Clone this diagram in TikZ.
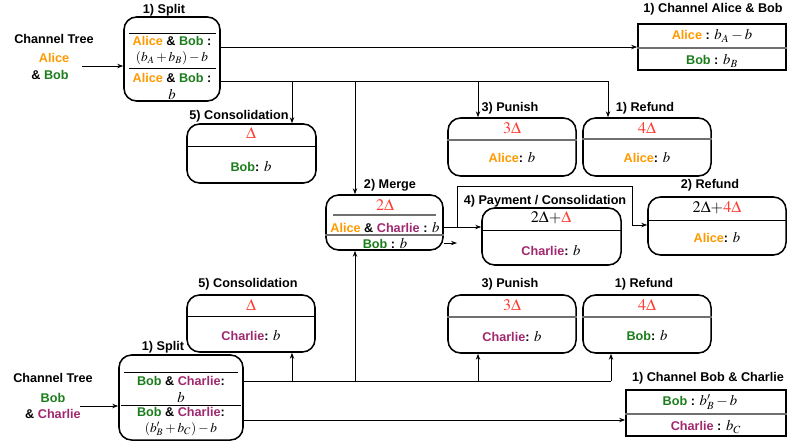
\documentclass[tikz,border=0pt]{standalone}
\usepackage{mathptmx}
\usepackage{fontspec}
\setmainfont{Liberation Sans}
\usepackage{xcolor}
\usepackage{tikz}
\usetikzlibrary{arrows.meta}
\definecolor{alice}{HTML}{FF9900}
\definecolor{bob}{HTML}{1B7D1B}
\definecolor{charlie}{HTML}{A0286E}
\definecolor{delta}{HTML}{FF3B2F}
\definecolor{rule}{HTML}{707070}
\newcommand{\pAlice}{\textcolor{alice}{Alice}}
\newcommand{\pBob}{\textcolor{bob}{Bob}}
\newcommand{\pCharlie}{\textcolor{charlie}{Charlie}}
\newcommand{\mth}[1]{{\fontsize{10.5}{12}\selectfont$#1$}}
\tikzset{
  box/.style={draw=black, line width=1.1pt, rounded corners=9pt, inner sep=0pt},
  chanbox/.style={draw=black, line width=1.2pt, inner sep=0pt},
  sep/.style={draw=black, line width=0.7pt},
  gsep/.style={draw=rule, line width=0.9pt},
  wire/.style={draw=black, line width=0.6pt},
  arr/.style={wire, -{Stealth[length=1.5mm, width=1.1mm]}},
  lab/.style={font=\bfseries\fontsize{9}{10}\selectfont, inner sep=0pt},
  txt/.style={font=\bfseries\fontsize{9}{10}\selectfont, inner sep=0pt},
  dlt/.style={text=delta, font=\fontsize{11.5}{12}\selectfont, inner sep=0pt},
}
\begin{document}
\begin{tikzpicture}[x=0.025cm, y=-0.025cm]
\useasboundingbox (0,0) rectangle (787,443);

\node[txt] (treeA) at (54,39) {Channel Tree};
\node[txt] (treeA1) at (54,58) {\pAlice};
\node[txt] (treeA2) at (50,75) {\& \pBob};
\coordinate (inA) at (82,66);

\node[box, minimum width=2.4cm, minimum height=2.1cm] (splitA) at (172,59) {};
\node[lab] (splitAl) at (164,10) {1) Split};
\draw[sep] (129,33) -- (216,33);
\node[txt] (splitA1) at (172,41) {\pAlice{} \& \pBob{} :};
\node[txt] (splitA2) at (172,58) {\fontsize{9.5}{11}\selectfont$(b_A+b_B)-b$};
\draw[sep] (129,68) -- (216,68);
\node[txt] (splitA3) at (172,78) {\pAlice{} \& \pBob{} :};
\node[txt] (splitA4) at (172,94) {\mth{b}};
\draw[arr] (inA) -- (inA -| splitA.west);

\node[chanbox, minimum width=3.7cm, minimum height=1.15cm] (chanAB) at (712,47) {};
\node[lab] (chanABl) at (713,9) {1) Channel Alice \& Bob};
\draw[gsep] (chanAB.west |- 0,48) -- (chanAB.east |- 0,48);
\node[txt] (chanAB1) at (712,36) {\pAlice{} : \mth{b_A-b}};
\node[txt] (chanAB2) at (712,61) {\pBob{} : \mth{b_B}};
\draw[arr] (chanAB.west -| splitA.east) -- (chanAB.west);

\node[box, minimum width=3.225cm, minimum height=1.475cm] (conA) at (251.5,153.5) {};
\node[lab] (conAl) at (239,116) {5) Consolidation};
\draw[sep] (conA.west |- 0,146) -- (conA.east |- 0,146);
\node[dlt] (conA1) at (251,133) {$\Delta$};
\node[txt] (conA2) at (251,166) {\pBob: \mth{b}};

\node[box, minimum width=3.2cm, minimum height=1.45cm] (punA) at (512,147) {};
\node[lab] (punAl) at (510,108) {3) Punish};
\draw[gsep] (punA.west |- 0,140) -- (punA.east |- 0,140);
\node[dlt] (punA1) at (512,128) {$3\Delta$};
\node[txt] (punA2) at (512,157) {\pAlice: \mth{b}};

\node[box, minimum width=3.2cm, minimum height=1.45cm] (refA) at (647,147) {};
\node[lab] (refAl) at (645,108) {1) Refund};
\draw[gsep] (refA.west |- 0,139) -- (refA.east |- 0,139);
\node[dlt] (refA1) at (647,128) {$4\Delta$};
\node[txt] (refA2) at (647,157) {\pAlice: \mth{b}};

\coordinate (jA1) at (292,81);
\coordinate (jA2) at (355,81);
\coordinate (jA3) at (478,81);
\coordinate (jA4) at (608,81);
\draw[wire] (splitA.east |- jA4) -- (jA4);
\draw[arr] (jA1) -- (jA1 |- conA.north);
\draw[arr] (jA3) -- (jA3 |- punA.north);
\draw[arr] (jA4) -- (jA4 |- refA.north);

\node[box, minimum width=2.925cm, minimum height=1.375cm] (merge) at (384.5,222.5) {};
\node[lab] (mergel) at (390,185) {2) Merge};
\node[dlt] (merge1) at (385,205) {$2\Delta$};
\draw[gsep] (333,215) -- (436,215);
\node[txt] (merge2) at (385,227) {\pAlice{} \& \pCharlie{} : \mth{b}};
\draw[gsep] (merge.west |- 0,235) -- (merge.east |- 0,235);
\node[txt] (merge3) at (385,243) {\pBob{} : \mth{b}};
\draw[arr] (jA2) -- (jA2 |- merge.north);

\node[box, minimum width=3.475cm, minimum height=1.425cm] (pay) at (551.5,236.5) {};
\node[lab] (payl) at (545,201) {4) Payment / Consolidation};
\draw[sep] (pay.west |- 0,230) -- (pay.east |- 0,230);
\node[txt, font=\fontsize{11.5}{12}\selectfont] (pay1) at (551,218) {$2\Delta{+}\textcolor{delta}{\Delta}$};
\node[txt] (pay2) at (551,250) {\pCharlie: \mth{b}};

\node[box, minimum width=3.45cm, minimum height=1.45cm] (refM) at (717,226) {};
\node[lab] (refMl) at (710,185) {2) Refund};
\draw[sep] (refM.west |- 0,220) -- (refM.east |- 0,220);
\node[txt, font=\fontsize{11.5}{12}\selectfont] (refM1) at (717,208) {$2\Delta{+}\textcolor{delta}{4\Delta}$};
\node[txt] (refM2) at (717,237) {\pAlice: \mth{b}};

\coordinate (jM) at (457,227);
\coordinate (mOut) at (457,243);
\draw[arr] (merge.east |- jM) -- (pay.west |- jM);
\draw[arr] (jM) -- (457,186) -- (632,186) -- (632,225) -- (refM.west |- 0,225);
\draw[arr] (merge.east |- mOut) -- (mOut);

\node[box, minimum width=3.2cm, minimum height=1.425cm] (conB) at (251,323.5) {};
\node[lab] (conBl) at (248,284) {5) Consolidation};
\draw[sep] (conB.west |- 0,316) -- (conB.east |- 0,316);
\node[dlt] (conB1) at (251,305) {$\Delta$};
\node[txt] (conB2) at (251,335) {\pCharlie: \mth{b}};

\node[box, minimum width=3.2cm, minimum height=1.45cm] (punB) at (512,324) {};
\node[lab] (punBl) at (510,284) {3) Punish};
\draw[gsep] (punB.west |- 0,317) -- (punB.east |- 0,317);
\node[dlt] (punB1) at (512,305) {$3\Delta$};
\node[txt] (punB2) at (512,336) {\pCharlie: \mth{b}};

\node[box, minimum width=3.2cm, minimum height=1.45cm] (refB) at (647,324) {};
\node[lab] (refBl) at (644,284) {1) Refund};
\draw[gsep] (refB.west |- 0,317) -- (refB.east |- 0,317);
\node[dlt] (refB1) at (647,305) {$4\Delta$};
\node[txt] (refB2) at (647,335) {\pBob: \mth{b}};

\node[txt] (treeB) at (53,378) {Channel Tree};
\node[txt] (treeB1) at (53,398) {\pBob};
\node[txt] (treeB2) at (53,414) {\& \pCharlie};
\coordinate (inB) at (80,406);

\node[box, minimum width=3.1cm, minimum height=2.125cm] (splitB) at (181,397.5) {};
\node[lab] (splitBl) at (163,347) {1) Split};
\draw[sep] (124,372) -- (238,372);
\node[txt] (splitB1) at (181,381) {\pBob{} \& \pCharlie:};
\node[txt] (splitB2) at (181,397) {\mth{b}};
\draw[sep] (121,405) -- (241,405);
\node[txt] (splitB3) at (181,412) {\pBob{} \& \pCharlie:};
\node[txt] (splitB4) at (181,429) {\fontsize{9.5}{11}\selectfont$(b'_B+b_C)-b$};
\draw[arr] (inB) -- (inB -| splitB.west);

\node[chanbox, minimum width=4.0cm, minimum height=1.15cm] (chanBC) at (706,413) {};
\node[lab] (chanBCl) at (708,378) {1) Channel Bob \& Charlie};
\draw[gsep] (chanBC.west |- 0,414) -- (chanBC.east |- 0,414);
\node[txt] (chanBC1) at (700,402) {\pBob{} : \mth{b'_B-b}};
\node[txt] (chanBC2) at (706,427) {\pCharlie{} : \mth{b_C}};
\draw[arr] (splitB.east |- 0,420) -- (chanBC.west |- 0,420);

\coordinate (jB1) at (292,381);
\coordinate (jB2) at (355,381);
\coordinate (jB3) at (478,381);
\coordinate (jB4) at (611,381);
\draw[wire] (splitB.east |- jB4) -- (jB4);
\draw[arr] (jB1) -- (jB1 |- conB.south);
\draw[arr] (jB2) -- (jB2 |- merge.south);
\draw[arr] (jB3) -- (jB3 |- punB.south);
\draw[arr] (jB4) -- (jB4 |- refB.south);
\end{tikzpicture}
\end{document}
